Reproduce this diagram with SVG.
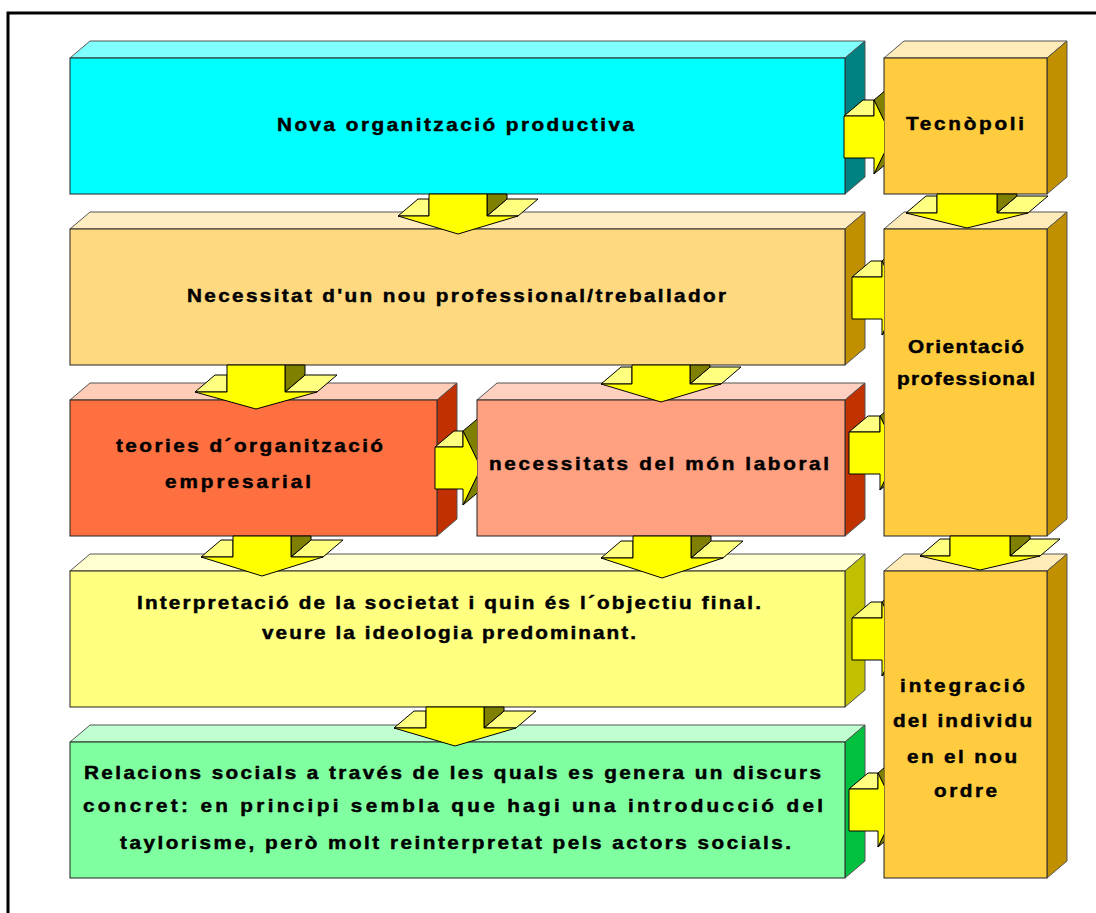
<svg xmlns="http://www.w3.org/2000/svg" width="1096" height="913" viewBox="0 0 1096 913">
<style>
.f{stroke:#222;stroke-width:1}
.e{stroke:#555;stroke-width:1;stroke-linejoin:miter}
.t{font-family:"Liberation Sans",Arial,sans-serif;font-weight:bold;font-size:18px;fill:#000;stroke:#000;stroke-width:0.45;text-anchor:middle}
.ay{fill:#FFFF00;stroke:#000;stroke-width:1}
.al{fill:#FFFF80;stroke:#000;stroke-width:1}
.ad{fill:#808000;stroke:#000;stroke-width:1}
</style>
<defs>
<clipPath id="clipR"><rect x="0" y="0" width="884" height="913"/></clipPath>
<clipPath id="clipB"><rect x="0" y="0" width="477" height="913"/></clipPath>
</defs>
<rect width="1096" height="913" fill="#fff"/>
<rect x="8" y="13" width="1100" height="920" fill="none" stroke="#000" stroke-width="3"/>

<g id="node-nova">
<polygon class="e" points="70,58 90,41 865,41 845,58" fill="#80FFFF"/>
<polygon class="e" points="845,58 865,41 865,177 845,194" fill="#008080"/>
<rect class="f" x="70" y="58" width="775" height="136" fill="#00FFFF"/>
<text class="t" transform="translate(455.5,131) scale(1.15,1)" textLength="310.4" lengthAdjust="spacing">Nova organització productiva</text>
</g>

<g id="node-tecnopoli">
<polygon class="e" points="884,58 904,41 1067,41 1047,58" fill="#FFEBB8"/>
<polygon class="e" points="1047,58 1067,41 1067,177 1047,194" fill="#C09000"/>
<rect class="f" x="884" y="58" width="163" height="136" fill="#FFCC40"/>
<text class="t" transform="translate(965,130) scale(1.15,1)" textLength="102.6" lengthAdjust="spacing">Tecnòpoli</text>
</g>

<g id="node-necessitat">
<polygon class="e" points="70,229 90,212 865,212 845,229" fill="#FFECC0"/>
<polygon class="e" points="845,229 865,212 865,348 845,365" fill="#C09000"/>
<rect class="f" x="70" y="229" width="775" height="136" fill="#FFD980"/>
<text class="t" transform="translate(456.5,302) scale(1.15,1)" textLength="468.7" lengthAdjust="spacing">Necessitat d'un nou professional/treballador</text>
</g>

<g id="node-orientacio">
<polygon class="e" points="884,229 904,212 1067,212 1047,229" fill="#FFEBB8"/>
<polygon class="e" points="1047,229 1067,212 1067,519 1047,536" fill="#C09000"/>
<rect class="f" x="884" y="229" width="163" height="307" fill="#FFCC40"/>
<text class="t" transform="translate(966,353) scale(1.15,1)" textLength="100.9" lengthAdjust="spacing">Orientació</text>
<text class="t" transform="translate(966,385) scale(1.15,1)" textLength="120" lengthAdjust="spacing">professional</text>
</g>

<g id="node-teories">
<polygon class="e" points="70,400 90,383 457,383 437,400" fill="#FFCCB8"/>
<polygon class="e" points="437,400 457,383 457,519 437,536" fill="#C03000"/>
<rect class="f" x="70" y="400" width="367" height="136" fill="#FF7040"/>
<text class="t" transform="translate(249.5,452) scale(1.15,1)" textLength="232.2" lengthAdjust="spacing">teories d´organització</text>
<text class="t" transform="translate(238,488) scale(1.15,1)" textLength="127" lengthAdjust="spacing">empresarial</text>
</g>

<g id="node-mon-laboral">
<polygon class="e" points="477,400 497,383 865,383 845,400" fill="#FFD0C0"/>
<polygon class="e" points="845,400 865,383 865,519 845,536" fill="#C03300"/>
<rect class="f" x="477" y="400" width="368" height="136" fill="#FFA080"/>
<text class="t" transform="translate(659,470) scale(1.15,1)" textLength="295.7" lengthAdjust="spacing">necessitats del món laboral</text>
</g>

<g id="node-interpretacio">
<polygon class="e" points="70,571 90,554 865,554 845,571" fill="#FFFFD0"/>
<polygon class="e" points="845,571 865,554 865,690 845,707" fill="#C0C000"/>
<rect class="f" x="70" y="571" width="775" height="136" fill="#FFFF80"/>
<text class="t" transform="translate(449,609) scale(1.15,1)" textLength="542.6" lengthAdjust="spacing">Interpretació de la societat i quin és l´objectiu final.</text>
<text class="t" transform="translate(449,639) scale(1.15,1)" textLength="325.2" lengthAdjust="spacing">veure la ideologia predominant.</text>
</g>

<g id="node-integracio">
<polygon class="e" points="884,571 904,554 1067,554 1047,571" fill="#FFEBB8"/>
<polygon class="e" points="1047,571 1067,554 1067,861 1047,878" fill="#C09000"/>
<rect class="f" x="884" y="571" width="163" height="307" fill="#FFCC40"/>
<text class="t" transform="translate(962.5,692) scale(1.15,1)" textLength="108.7" lengthAdjust="spacing">integració</text>
<text class="t" transform="translate(962.5,727) scale(1.15,1)" textLength="120.9" lengthAdjust="spacing">del individu</text>
<text class="t" transform="translate(962,763) scale(1.15,1)" textLength="95.7" lengthAdjust="spacing">en el nou</text>
<text class="t" transform="translate(965.5,797) scale(1.15,1)" textLength="54.8" lengthAdjust="spacing">ordre</text>
</g>

<g id="node-relacions">
<polygon class="e" points="70,742 90,725 865,725 845,742" fill="#C0FFD0"/>
<polygon class="e" points="845,742 865,725 865,861 845,878" fill="#00C040"/>
<rect class="f" x="70" y="742" width="775" height="136" fill="#80FFA0"/>
<text class="t" transform="translate(452.5,779) scale(1.15,1)" textLength="640.9" lengthAdjust="spacing">Relacions socials a través de les quals es genera un discurs</text>
<text class="t" transform="translate(453,812) scale(1.15,1)" textLength="643.5" lengthAdjust="spacing">concret: en principi sembla que hagi una introducció del</text>
<text class="t" transform="translate(455.5,849) scale(1.15,1)" textLength="583.5" lengthAdjust="spacing">taylorisme, però molt reinterpretat pels actors socials.</text>
</g>

<g id="connectors">
<g id="a1">
<polygon class="al" points="398,216 418,199 429,199 429,216"/>
<polygon class="al" points="487,216 507,199 538,199 518,216"/>
<polygon class="ad" points="487,194 507,194 507,199 487,216"/>
<polygon class="ay" points="429,194 487,194 487,216 518,216 458,234 398,216 429,216"/>
</g>
<g id="a2">
<polygon class="al" points="906,213 926,196 937,196 937,213"/>
<polygon class="al" points="997,213 1017,196 1048,196 1028,213"/>
<polygon class="ad" points="997,194 1017,194 1017,196 997,213"/>
<polygon class="ay" points="937,194 997,194 997,213 1028,213 967,228 906,213 937,213"/>
</g>
<g id="a3">
<polygon class="al" points="195,392 215,375 227,375 227,392"/>
<polygon class="al" points="285,392 305,375 337,375 317,392"/>
<polygon class="ad" points="285,365 305,365 305,375 285,392"/>
<polygon class="ay" points="227,365 285,365 285,392 317,392 256,409 195,392 227,392"/>
</g>
<g id="a4">
<polygon class="al" points="601,384 621,367 632,367 632,384"/>
<polygon class="al" points="690,384 710,367 741,367 721,384"/>
<polygon class="ad" points="690,365 710,365 710,367 690,384"/>
<polygon class="ay" points="632,365 690,365 690,384 721,384 661,402 601,384 632,384"/>
</g>
<g id="a5">
<polygon class="al" points="201,557 221,540 233,540 233,557"/>
<polygon class="al" points="291,557 311,540 343,540 323,557"/>
<polygon class="ad" points="291,536 311,536 311,540 291,557"/>
<polygon class="ay" points="233,536 291,536 291,557 323,557 262,576 201,557 233,557"/>
</g>
<g id="a6">
<polygon class="al" points="601,558 621,541 633,541 633,558"/>
<polygon class="al" points="691,558 711,541 743,541 723,558"/>
<polygon class="ad" points="691,536 711,536 711,541 691,558"/>
<polygon class="ay" points="633,536 691,536 691,558 723,558 662,578 601,558 633,558"/>
</g>
<g id="a7">
<polygon class="al" points="920,556 940,539 950,539 950,556"/>
<polygon class="al" points="1010,556 1030,539 1060,539 1040,556"/>
<polygon class="ad" points="1010,536 1030,536 1030,539 1010,556"/>
<polygon class="ay" points="950,536 1010,536 1010,556 1040,556 980,570 920,556 950,556"/>
</g>
<g id="a8">
<polygon class="al" points="394,728 414,711 426,711 426,728"/>
<polygon class="al" points="484,728 504,711 536,711 516,728"/>
<polygon class="ad" points="484,707 504,707 504,711 484,728"/>
<polygon class="ay" points="426,707 484,707 484,728 516,728 455,746 394,728 426,728"/>
</g>
<g id="rA" clip-path="url(#clipR)">
<polygon class="ad" points="874,100 893,84 911,121 892,137"/>
<polygon class="ad" points="892,137 911,121 893,158 874,174"/>
<polygon class="al" points="844,116 863,100 874,100 874,116"/>
<polygon class="ay" points="844,116 874,116 874,100 892,137 874,174 874,158 844,158"/>
</g>
<g id="rB" clip-path="url(#clipB)">
<polygon class="ad" points="463,431 482,415 500,452 481,468"/>
<polygon class="ad" points="481,468 500,452 482,489 463,505"/>
<polygon class="al" points="435,447 454,431 463,431 463,447"/>
<polygon class="ay" points="435,447 463,447 463,431 481,468 463,505 463,489 435,489"/>
</g>
<g id="rC" clip-path="url(#clipR)">
<polygon class="ad" points="882,261 901,245 919,282 900,298"/>
<polygon class="ad" points="900,298 919,282 901,319 882,335"/>
<polygon class="al" points="852,277 871,261 882,261 882,277"/>
<polygon class="ay" points="852,277 882,277 882,261 900,298 882,335 882,319 852,319"/>
</g>
<g id="rD" clip-path="url(#clipR)">
<polygon class="ad" points="880,416 899,400 917,437 898,453"/>
<polygon class="ad" points="898,453 917,437 899,474 880,490"/>
<polygon class="al" points="849,432 868,416 880,416 880,432"/>
<polygon class="ay" points="849,432 880,432 880,416 898,453 880,490 880,474 849,474"/>
</g>
<g id="rE" clip-path="url(#clipR)">
<polygon class="ad" points="882,602 901,586 919,623 900,639"/>
<polygon class="ad" points="900,639 919,623 901,660 882,676"/>
<polygon class="al" points="852,618 871,602 882,602 882,618"/>
<polygon class="ay" points="852,618 882,618 882,602 900,639 882,676 882,660 852,660"/>
</g>
<g id="rF" clip-path="url(#clipR)">
<polygon class="ad" points="878,773 897,757 915,794 896,810"/>
<polygon class="ad" points="896,810 915,794 897,831 878,847"/>
<polygon class="al" points="849,789 868,773 878,773 878,789"/>
<polygon class="ay" points="849,789 878,789 878,773 896,810 878,847 878,831 849,831"/>
</g>
</g>
</svg>
